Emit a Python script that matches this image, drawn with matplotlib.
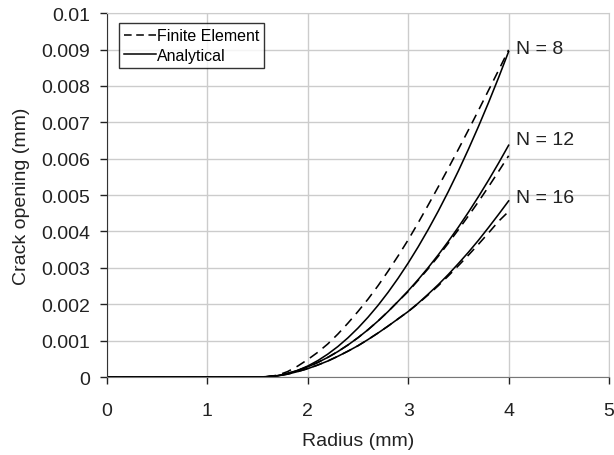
import numpy as np
import matplotlib
matplotlib.use("Agg")
import matplotlib.pyplot as plt
from matplotlib.lines import Line2D

plt.rcParams['font.family'] = ['Liberation Sans', 'DejaVu Sans']

# radius values (mm)
radius = [0, 1.0, 1.5, 1.6, 1.7, 1.8, 1.9, 2.0, 2.1, 2.2, 2.3, 2.4, 2.5, 2.6, 2.7,
          2.8, 2.9, 3.0, 3.1, 3.2, 3.3, 3.4, 3.5, 3.6, 3.7, 3.8, 3.9, 4.0]

# crack opening (mm), analytical
ana_n8 = [0, 0, 0, 0.000004, 0.000034, 0.000093, 0.000183, 0.000302, 0.000451, 0.00063,
          0.000838, 0.001077, 0.001345, 0.001643, 0.00197, 0.002328, 0.002716, 0.003133,
          0.00358, 0.004057, 0.004563, 0.0051, 0.005666, 0.006262, 0.006888, 0.007543,
          0.008229, 0.008944]
ana_n12 = [0, 0, 0, 0.00001, 0.00004, 0.0001, 0.00018, 0.00028, 0.0004, 0.00054,
           0.0007, 0.00088, 0.00108, 0.0013, 0.00154, 0.0018, 0.00208, 0.00237,
           0.00268, 0.00301, 0.00336, 0.00373, 0.00412, 0.00453, 0.00496, 0.00541,
           0.00588, 0.00637]
ana_n16 = [0, 0, 0, 0.00001, 0.00003, 0.00008, 0.00015, 0.00023, 0.00033, 0.00044,
           0.00057, 0.00071, 0.00086, 0.00103, 0.00121, 0.0014, 0.0016, 0.0018,
           0.00203, 0.00228, 0.00254, 0.00282, 0.00312, 0.00343, 0.00376, 0.00411,
           0.00447, 0.00484]

# crack opening (mm), finite element
fe_n8 = [0, 0, 0, 0.00001, 0.00005, 0.00015, 0.0003, 0.00048, 0.00068, 0.00091,
         0.00118, 0.00148, 0.0018, 0.00214, 0.00251, 0.00291, 0.00333, 0.00377,
         0.00424, 0.00473, 0.00523, 0.00574, 0.00626, 0.00679, 0.00733, 0.00788,
         0.00843, 0.00899]
fe_n12 = [0, 0, 0, 0.00001, 0.00004, 0.0001, 0.00018, 0.00028, 0.0004, 0.00054,
          0.0007, 0.00088, 0.00108, 0.0013, 0.00154, 0.0018, 0.00208, 0.00235,
          0.00266, 0.00298, 0.00332, 0.00368, 0.00405, 0.00443, 0.00482, 0.00523,
          0.00565, 0.00608]
fe_n16 = [0, 0, 0, 0.00001, 0.00003, 0.00008, 0.00015, 0.00023, 0.00033, 0.00044,
          0.00057, 0.00071, 0.00086, 0.00103, 0.00121, 0.0014, 0.0016, 0.0018,
          0.00202, 0.00226, 0.00251, 0.00278, 0.00306, 0.00335, 0.00365, 0.00396,
          0.00428, 0.00455]

labels = ['N = 8', 'N = 12', 'N = 16']
label_y = [0.00904, 0.00654, 0.00492]

fig = plt.figure(figsize=(6.14, 4.56), dpi=100)
ax = fig.add_axes([0.174, 0.171, 0.818, 0.798])

dash = (0, (6, 4))
for fe, ana in [(fe_n8, ana_n8), (fe_n12, ana_n12), (fe_n16, ana_n16)]:
    ax.plot(radius, fe, color='black', lw=1.15, linestyle=dash)
    ax.plot(radius, ana, color='black', lw=1.15)

for lab, yv in zip(labels, label_y):
    ax.text(4.07, yv, lab, fontsize=14, va='center', ha='left', color='#222222')

ax.set_xlim(0, 5)
ax.set_ylim(0, 0.01)
ax.set_xticks(np.arange(0, 6, 1))
ax.set_yticks(np.arange(0, 0.0101, 0.001))
ax.set_xticklabels([str(i) for i in range(6)])
ax.set_yticklabels(['0'] + ['%.3f' % v for v in np.arange(0.001, 0.0096, 0.001)] + ['0.01'])
ax.grid(True, color='#cccccc', lw=1.0)
ax.set_axisbelow(True)
ax.tick_params(direction='out', length=5, width=1, labelsize=14, colors='#222222')
ax.tick_params(axis='x', pad=13)
ax.tick_params(axis='y', pad=7)
for s in ['top', 'right']:
    ax.spines[s].set_color('#cccccc')
ax.spines['left'].set_color('#333333')
ax.spines['bottom'].set_color('#777777')

ax.set_xlabel('Radius (mm)', fontsize=14, color='#222222', labelpad=9)
ax.set_ylabel('Crack opening (mm)', fontsize=14, color='#222222', labelpad=8)

handles = [Line2D([], [], color='black', lw=1.1, linestyle=(0, (5, 3))),
           Line2D([], [], color='black', lw=1.1)]
leg = ax.legend(handles, ['Finite Element', 'Analytical'], loc='upper left',
                bbox_to_anchor=(0.024, 0.972), fontsize=11.5, frameon=True,
                fancybox=False, edgecolor='black', handlelength=2.0,
                handletextpad=0.1, borderpad=0.3, labelspacing=0.3,
                borderaxespad=0)
leg.get_frame().set_linewidth(1.0)

fig.savefig('out.png', dpi=100)
